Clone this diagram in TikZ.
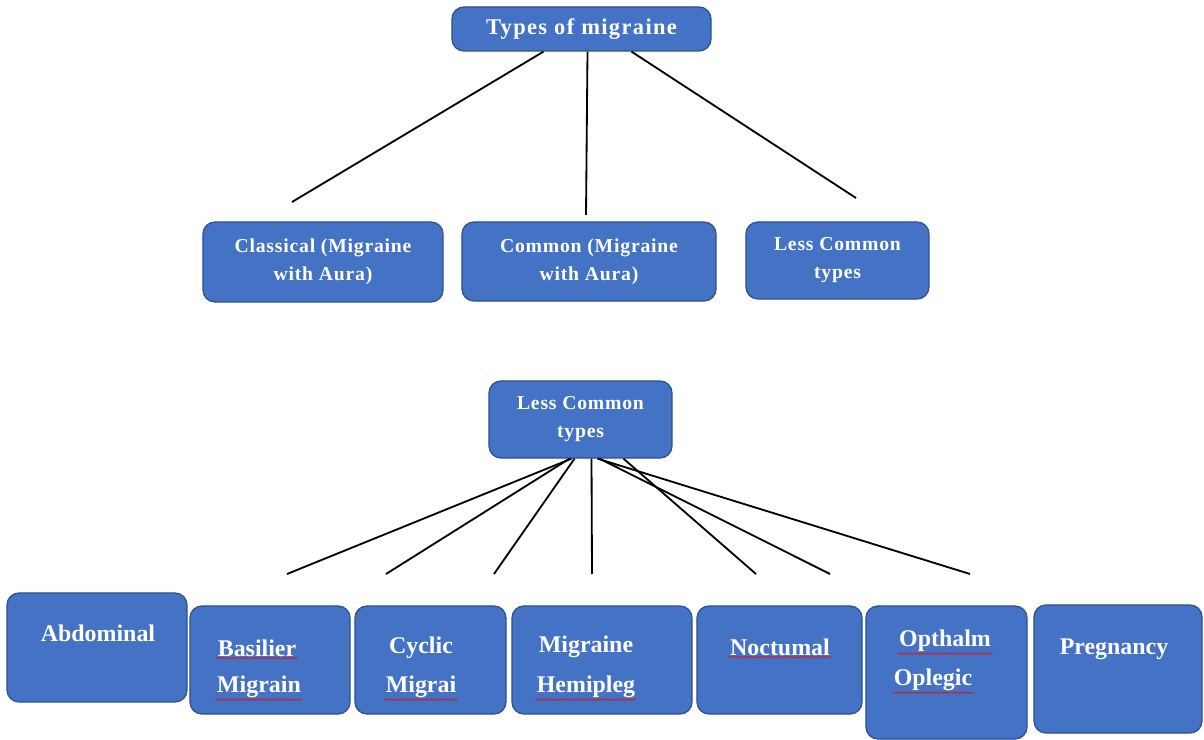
\documentclass[tikz,border=0pt]{standalone}
\usepackage{fontspec}
\setmainfont{Liberation Serif}
\usepackage{tikz}
\usetikzlibrary{positioning, calc, decorations.pathmorphing}
\definecolor{boxBlue}{RGB}{68, 114, 196}
\definecolor{boxEdge}{RGB}{47, 82, 143}
\definecolor{spellRed}{RGB}{200, 30, 40}

\begin{document}
\begin{tikzpicture}[
    x=0.025cm, y=-0.025cm,
    box/.style={rectangle, rounded corners=0.3cm, fill=boxBlue, draw=boxEdge, line width=0.9pt, inner sep=0pt},
    head/.style={box, font=\bfseries\fontsize{16}{19}\selectfont\addfontfeatures{LetterSpace=6}, text=white},
    mid/.style={box, font=\bfseries\fontsize{14}{20}\selectfont\addfontfeatures{LetterSpace=4}, text=white, align=center},
    leaf/.style={font=\bfseries\fontsize{17}{20}\selectfont, text=white, inner sep=1pt},
    link/.style={line width=1.3pt, black},
    spell/.style={spellRed, line width=0.5pt, decorate, decoration={snake, amplitude=0.6pt, segment length=2.2pt}}
]
    \useasboundingbox (0,0) rectangle (1204,740);

    % top tree
    \node[head, minimum width=6.475cm, minimum height=1.1cm] (types) at (581.5,29) {Types of migraine};
    \node[mid, minimum width=6cm, minimum height=2cm] (classical) at (323,262) {Classical (Migraine\\with Aura)};
    \node[mid, minimum width=6.35cm, minimum height=1.975cm] (common) at (589,261.5) {Common (Migraine\\with Aura)};
    \node[mid, minimum width=4.575cm, minimum height=1.925cm] (lessTop) at (837.5,260.5) {Less Common\\types};

    \coordinate (endClassical) at (292,202);
    \coordinate (endCommon) at (586,215);
    \coordinate (endLess) at (856,198);
    \draw[link] ($(types.south)+(-38,0)$) -- (endClassical);
    \draw[link] ($(types.south)+(6,0)$) -- (endCommon);
    \draw[link] ($(types.south)+(50,0)$) -- (endLess);

    % lower tree
    \node[mid, minimum width=4.575cm, minimum height=1.925cm] (lessLow) at (580.5,419.5) {Less Common\\types};

    \node[box, minimum width=4.5cm, minimum height=2.725cm] (abdominal) at (97,647.5) {};
    \node[box, minimum width=4cm, minimum height=2.7cm] (basilier) at (270,660) {};
    \node[box, minimum width=3.775cm, minimum height=2.7cm] (cyclic) at (430.5,660) {};
    \node[box, minimum width=4.5cm, minimum height=2.7cm] (hemipleg) at (602,660) {};
    \node[box, minimum width=4.125cm, minimum height=2.7cm] (noctumal) at (779.5,660) {};
    \node[box, minimum width=4.025cm, minimum height=3.325cm] (opthalm) at (946.5,672.5) {};
    \node[box, minimum width=4.2cm, minimum height=3.2cm] (pregnancy) at (1118,669) {};

    \node[leaf] (abdominalA) at (98,633) {Abdominal};
    \node[leaf] (basilierA) at (257,648) {Basilier};
    \node[leaf] (basilierB) at (259,687) {Migrain};
    \node[leaf] (cyclicA) at (421,648) {Cyclic};
    \node[leaf] (cyclicB) at (421,687) {Migrai};
    \node[leaf] (hemiplegA) at (586,647) {Migraine};
    \node[leaf] (hemiplegB) at (586,687) {Hemipleg};
    \node[leaf] (noctumalA) at (780,647) {Noctumal};
    \node[leaf] (opthalmA) at (945,641) {Opthalm};
    \node[leaf] (opthalmB) at (933,680) {Oplegic};
    \node[leaf] (pregnancyA) at (1114,649) {Pregnancy};

    % spell-check marks
    \draw[spell] (basilierA.south west) -- (basilierA.south east);
    \draw[spell] (basilierB.south west) -- (basilierB.south east);
    \draw[spell] (cyclicB.south west) -- (cyclicB.south east);
    \draw[spell] (hemiplegB.south west) -- (hemiplegB.south east);
    \draw[spell] (noctumalA.south west) -- (noctumalA.south east);
    \draw[spell] (opthalmA.south west) -- (opthalmA.south east);
    \draw[spell] (opthalmB.south west) -- (opthalmB.south east);

    \coordinate (endAbdominal) at (287,574);
    \coordinate (endBasilier) at (386,574);
    \coordinate (endCyclic) at (494,574);
    \coordinate (endHemipleg) at (592,574);
    \coordinate (endNoctumal) at (756,574);
    \coordinate (endOpthalm) at (830,574);
    \coordinate (endPregnancy) at (970,574);
    \draw[link] ($(lessLow.south)+(-9,0)$) -- (endAbdominal);
    \draw[link] ($(lessLow.south)+(-11,0)$) -- (endBasilier);
    \draw[link] ($(lessLow.south)+(-6,0)$) -- (endCyclic);
    \draw[link] ($(lessLow.south)+(11,0)$) -- (endHemipleg);
    \draw[link] ($(lessLow.south)+(43,0)$) -- (endNoctumal);
    \draw[link] ($(lessLow.south)+(19,0)$) -- (endOpthalm);
    \draw[link] ($(lessLow.south)+(17,0)$) -- (endPregnancy);
\end{tikzpicture}
\end{document}
